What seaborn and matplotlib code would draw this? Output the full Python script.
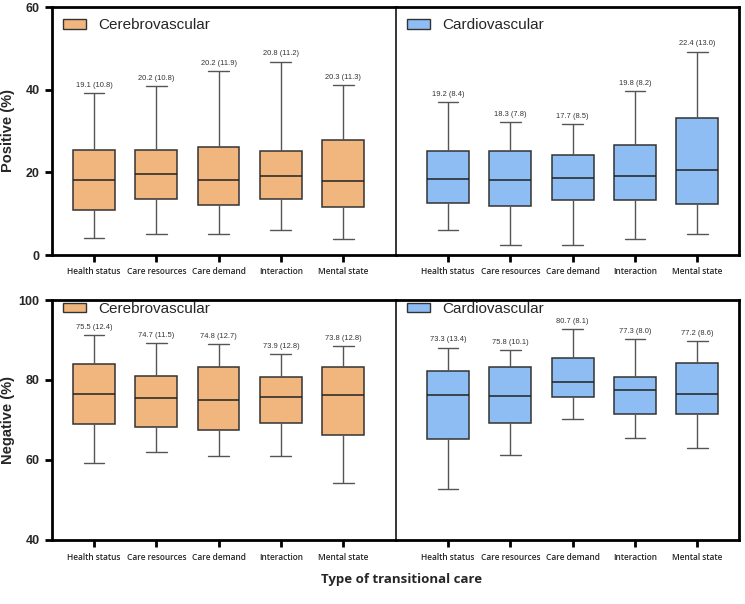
import numpy as np
import pandas as pd
import seaborn as sns
import matplotlib.pyplot as plt
from matplotlib.patches import Patch

# categories on the x axis
cats = ['Health status', 'Care resources', 'Care demand', 'Interaction', 'Mental state']

# five-number summaries: low whisker, Q1, median, Q3, high whisker
cereb_pos = [[4.0, 10.9, 18.2, 25.5, 39.1],
             [5.1, 13.5, 19.5, 25.5, 40.8],
             [5.1, 12.0, 18.2, 26.1, 44.4],
             [6.1, 13.5, 19.0, 25.1, 46.8],
             [3.8, 11.7, 17.9, 27.8, 41.1]]
cardio_pos = [[6.0, 12.7, 18.5, 25.2, 36.9],
              [2.5, 11.9, 18.2, 25.1, 32.2],
              [2.5, 13.3, 18.7, 24.1, 31.6],
              [3.9, 13.3, 19.1, 26.5, 39.6],
              [5.1, 12.4, 20.5, 33.2, 49.2]]
cereb_neg = [[59.3, 69.0, 76.6, 83.9, 91.3],
             [61.9, 68.3, 75.6, 81.0, 89.2],
             [61.1, 67.5, 74.9, 83.2, 89.0],
             [61.1, 69.3, 75.7, 80.8, 86.4],
             [54.3, 66.3, 76.2, 83.3, 88.5]]
cardio_neg = [[52.8, 65.2, 76.3, 82.3, 88.1],
              [61.3, 69.2, 76.1, 83.2, 87.4],
              [70.3, 75.7, 79.4, 85.6, 92.7],
              [65.4, 71.4, 77.4, 80.8, 90.3],
              [63.1, 71.4, 76.4, 84.3, 89.8]]

# mean (sd) labels printed above the boxes
cereb_pos_lab = ['19.1 (10.8)', '20.2 (10.8)', '20.2 (11.9)', '20.8 (11.2)', '20.3 (11.3)']
cardio_pos_lab = ['19.2 (8.4)', '18.3 (7.8)', '17.7 (8.5)', '19.8 (8.2)', '22.4 (13.0)']
cereb_neg_lab = ['75.5 (12.4)', '74.7 (11.5)', '74.8 (12.7)', '73.9 (12.8)', '73.8 (12.8)']
cardio_neg_lab = ['73.3 (13.4)', '75.8 (10.1)', '80.7 (8.1)', '77.3 (8.0)', '77.2 (8.6)']

orange = '#F1B67E'
blue = '#8EBDF4'
edge = '#333333'

sns.set_style('ticks')


def to_frame(stats):
    rows = []
    for c, s in zip(cats, stats):
        for v in s:
            rows.append({'care': c, 'value': v})
    return pd.DataFrame(rows)


def draw(ax, stats, labels, color, name, ylim, yticks, ylab, left):
    df = to_frame(stats)
    sns.boxplot(data=df, x='care', y='value', ax=ax, color=color, saturation=1,
                width=0.67, whis=(0, 100), showfliers=False, linecolor=edge,
                linewidth=1.1,
                whiskerprops={'color': '#555555', 'linewidth': 1.0},
                capprops={'color': '#555555', 'linewidth': 1.0},
                medianprops={'color': '#222222', 'linewidth': 1.1})
    for i, (s, t) in enumerate(zip(stats, labels)):
        ax.annotate(t, (i, s[4]), xytext=(0, 3), textcoords='offset points',
                    ha='center', va='bottom', fontsize=5.4, color='#333333',
                    family='Liberation Sans')
    ax.set_ylim(*ylim)
    if left:
        ax.set_xlim(-0.674, 4.847)
        ax.set_yticks(yticks)
        ax.set_yticklabels([str(v) for v in yticks], fontsize=9, fontweight='bold',
                           family='Liberation Sans')
        ax.set_ylabel(ylab, fontsize=10.5, fontweight='bold', family='Liberation Sans')
        ax.yaxis.set_label_coords(-0.107, 0.5)
        ax.spines['right'].set_visible(False)
        ax.spines['left'].set_linewidth(2.0)
    else:
        ax.set_xlim(-0.835, 4.67)
        ax.set_yticks([])
        ax.set_ylabel('')
        ax.spines['left'].set_linewidth(1.1)
        ax.spines['right'].set_linewidth(2.0)
    ax.spines['top'].set_linewidth(2.0)
    ax.spines['bottom'].set_linewidth(2.0)
    for sp in ax.spines.values():
        sp.set_color('black')
    ax.set_xlabel('')
    ax.set_xticks(range(len(cats)))
    ax.set_xticklabels(cats, fontsize=6, fontweight='semibold', family='Open Sans')
    ax.tick_params(axis='both', width=2, length=5, color='black', pad=4)
    ax.legend(handles=[Patch(facecolor=color, edgecolor=edge, linewidth=1, label=name)],
              loc='upper left', frameon=False, handlelength=1.5,
              handleheight=0.6, borderaxespad=0.35,
              prop={'family': 'Liberation Sans', 'size': 11})


fig = plt.figure(figsize=(7.45, 6.04), dpi=100)
W, H = 745, 604
lw, rw = (396 - 52) / W, (739 - 396) / W
ax1 = fig.add_axes([52 / W, 1 - 255 / H, lw, 248 / H])
ax2 = fig.add_axes([396 / W, 1 - 255 / H, rw, 248 / H])
ax3 = fig.add_axes([52 / W, 1 - 540 / H, lw, 240 / H])
ax4 = fig.add_axes([396 / W, 1 - 540 / H, rw, 240 / H])

draw(ax1, cereb_pos, cereb_pos_lab, orange, 'Cerebrovascular', (0, 60), [0, 20, 40, 60], 'Positive (%)', True)
draw(ax2, cardio_pos, cardio_pos_lab, blue, 'Cardiovascular', (0, 60), [0, 20, 40, 60], '', False)
draw(ax3, cereb_neg, cereb_neg_lab, orange, 'Cerebrovascular', (40, 100), [40, 60, 80, 100], 'Negative (%)', True)
draw(ax4, cardio_neg, cardio_neg_lab, blue, 'Cardiovascular', (40, 100), [40, 60, 80, 100], '', False)

for ax in (ax3, ax4):
    ax.get_legend().set_bbox_to_anchor((0, 1.04), transform=ax.transAxes)

fig.text(402 / W, 1 - 579 / H, 'Type of transitional care', ha='center', va='center',
         fontsize=9.5, fontweight='bold', family='Open Sans')

fig.savefig('out.png', dpi=100)
